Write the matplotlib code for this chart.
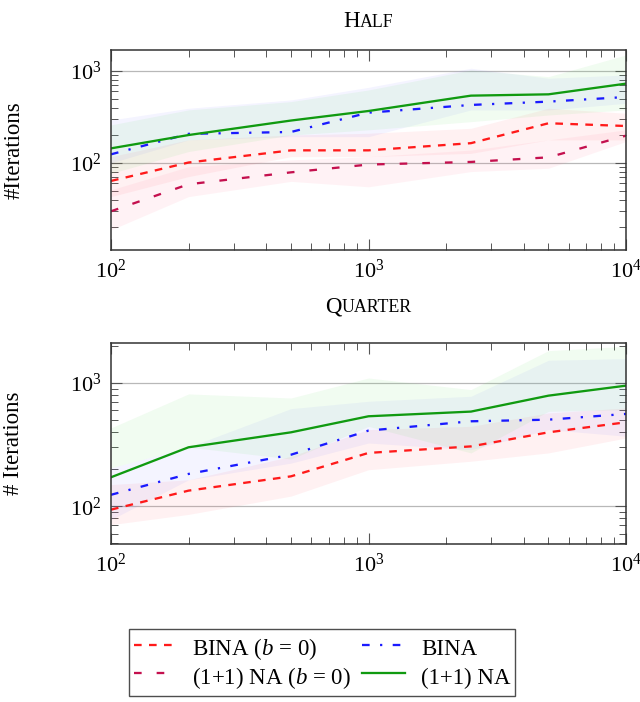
import matplotlib
matplotlib.use("Agg")
import matplotlib.pyplot as plt
import numpy as np
from matplotlib.lines import Line2D
from matplotlib.ticker import LogLocator, NullFormatter

plt.rcParams['font.family'] = ['Liberation Serif', 'DejaVu Serif']
plt.rcParams['mathtext.fontset'] = 'custom'
plt.rcParams['mathtext.rm'] = 'Liberation Serif'
plt.rcParams['mathtext.it'] = 'Liberation Serif:italic'
plt.rcParams['lines.scale_dashes'] = False

# ---------------- data ----------------
n = [100, 200, 500, 1000, 2500, 5000, 10000]

# HALF
half_bina_b0 = [63.7, 101, 137, 137, 164, 270, 252]
half_bina_b0_lo = [43, 71, 117, 117, 127, 178, 178]
half_bina_b0_hi = [117, 178, 201, 210, 238, 393, 347]

half_bina = [124, 207, 217, 352, 427, 464, 521]
half_bina_lo = [100, 178, 193, 193, 377, 377, 445]
half_bina_hi = [293, 393, 484, 664, 1070, 832, 905]

half_opo_b0 = [29.8, 58.6, 79, 96, 102.5, 115, 198]
half_opo_b0_lo = [18.7, 43, 63, 55, 80.5, 87.5, 171]
half_opo_b0_hi = [51, 91, 108, 117, 138, 178, 229]

half_opo = [144, 201, 289, 367, 539, 557, 728]
half_opo_lo = [77, 133, 201, 229, 281, 332, 377]
half_opo_hi = [259, 377, 464, 621, 1024, 867, 1493]

# QUARTER
q_bina_b0 = [94, 134, 175, 271, 306, 398, 480]
q_bina_b0_lo = [71, 86, 121, 198, 232, 271, 358]
q_bina_b0_hi = [150, 164, 254, 419, 445, 571, 627]

q_bina = [124, 183, 262, 411, 489, 504, 561]
q_bina_lo = [78, 164, 224, 326, 288, 419, 370]
q_bina_hi = [205, 302, 619, 710, 780, 1527, 1575]

q_opo = [172, 301, 398, 537, 586, 789, 951]
q_opo_lo = [205, 302, 242, 445, 271, 589, 608]
q_opo_hi = [432, 815, 755, 1097, 883, 1828, 1983]

labels = ["BINA ($\\mathit{b}$ = 0)", "BINA", "(1+1) NA ($\\mathit{b}$ = 0)", "(1+1) NA"]

# ---------------- style ----------------
c_red = '#ff1a1a'
c_blue = '#1a1aff'
c_crim = '#c4104e'
c_green = '#109a10'
f_red = '#ff6070'
f_blue = '#8080ff'
f_crim = '#ff7090'
f_green = '#60e060'

st_red = dict(color=c_red, lw=1.65, dashes=(5.5, 5.3))
st_blue = dict(color=c_blue, lw=1.65, dashes=(5.5, 7.5, 1.6, 7.5))
st_crim = dict(color=c_crim, lw=1.65, dashes=(5.5, 10.8))
st_green = dict(color=c_green, lw=1.65)

FS = 16.5

fig = plt.figure(figsize=(6.4, 7.02), dpi=100)
ax1 = fig.add_axes([111/640, 1-250/702, 515/640, 200/702])
ax2 = fig.add_axes([111/640, 1-544/702, 515/640, 201/702])


def style_axes(ax, ylim):
    ax.set_xscale('log')
    ax.set_yscale('log')
    ax.set_xlim(100, 10000)
    ax.set_ylim(*ylim)
    ax.xaxis.set_major_locator(LogLocator(base=10, numticks=10))
    ax.yaxis.set_major_locator(LogLocator(base=10, numticks=10))
    ax.xaxis.set_minor_locator(LogLocator(base=10, subs=np.arange(2, 10), numticks=20))
    ax.yaxis.set_minor_locator(LogLocator(base=10, subs=np.arange(2, 10), numticks=20))
    ax.xaxis.set_minor_formatter(NullFormatter())
    ax.yaxis.set_minor_formatter(NullFormatter())
    ax.tick_params(which='both', direction='in', top=True, right=True,
                   color='#555555', labelsize=FS - 0.5)
    ax.tick_params(which='major', length=8, width=0.8, pad=7)
    ax.tick_params(which='minor', length=5, width=0.7)
    ax.grid(True, which='major', axis='y', color='#b8b8b8', lw=0.9)
    ax.set_axisbelow(True)
    for s in ax.spines.values():
        s.set_color('#333333')
        s.set_linewidth(1.1)


def draw(ax, series):
    for (m, lo, hi, st, fc) in series:
        ax.fill_between(n, lo, hi, color=fc, alpha=0.085, lw=0)
    for (m, lo, hi, st, fc) in series:
        ax.plot(n, m, **st)


style_axes(ax1, (11.3, 1690))
draw(ax1, [
    (half_bina_b0, half_bina_b0_lo, half_bina_b0_hi, st_red, f_red),
    (half_bina, half_bina_lo, half_bina_hi, st_blue, f_blue),
    (half_opo_b0, half_opo_b0_lo, half_opo_b0_hi, st_crim, f_crim),
    (half_opo, half_opo_lo, half_opo_hi, st_green, f_green),
])
ax1.set_ylabel('#Iterations', fontsize=FS)
ax1.yaxis.set_label_coords(-0.168, 0.5)

style_axes(ax2, (49.5, 2108))
draw(ax2, [
    (q_bina_b0, q_bina_b0_lo, q_bina_b0_hi, st_red, f_red),
    (q_bina, q_bina_lo, q_bina_hi, st_blue, f_blue),
    (q_opo, q_opo_lo, q_opo_hi, st_green, f_green),
])
ax2.set_ylabel('# Iterations', fontsize=FS)
ax2.yaxis.set_label_coords(-0.168, 0.5)


# small-caps titles
def smallcaps_title(word, xc, yc):
    r = fig.canvas.get_renderer()
    parts = [(word[0], FS), (word[1:].upper(), FS * 0.78)]
    texts = []
    for s, fs in parts:
        t = fig.text(0, yc, s, fontsize=fs, va='baseline', ha='left')
        texts.append(t)
    widths = [t.get_window_extent(r).width / fig.bbox.width for t in texts]
    x = xc - sum(widths) / 2
    for t, w in zip(texts, widths):
        t.set_x(x)
        x += w


smallcaps_title('Half', (111 + 515 / 2) / 640, 1 - 27/702)
smallcaps_title('Quarter', (111 + 515 / 2) / 640, 1 - 312/702)

handles = [
    Line2D([], [], **st_red),
    Line2D([], [], **st_crim),
    Line2D([], [], **st_blue),
    Line2D([], [], **st_green),
]
hl = [labels[0], labels[2], labels[1], labels[3]]
leg = fig.legend(handles, hl, ncol=2, loc='upper center',
                 bbox_to_anchor=(322/640, 1 - 629/702), fontsize=FS,
                 frameon=True, fancybox=False, edgecolor='#222222',
                 handlelength=1.85, handleheight=1.55, handletextpad=0.7,
                 columnspacing=0.5, borderpad=0.2, labelspacing=0.0,
                 borderaxespad=0)
leg.get_frame().set_linewidth(1.0)

fig.savefig('out.png', dpi=100)
